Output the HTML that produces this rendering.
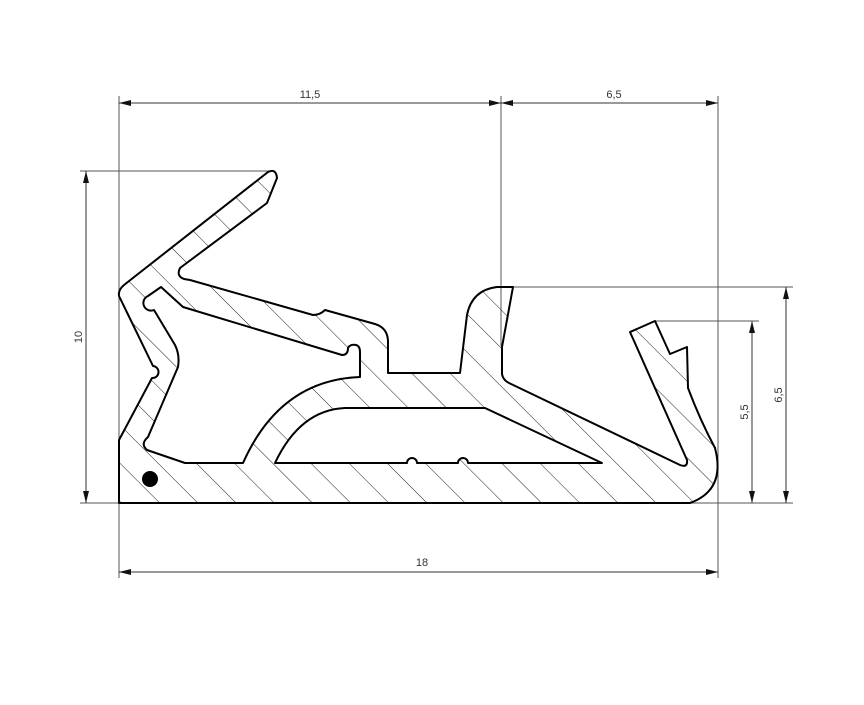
<!DOCTYPE html>
<html><head><meta charset="utf-8"><style>
html,body{margin:0;padding:0;background:#fff;}
svg{display:block;}
text{font-family:"Liberation Sans",sans-serif;font-size:11px;fill:#333;}
</style></head><body>
<svg width="864" height="705" viewBox="0 0 864 705" xmlns="http://www.w3.org/2000/svg">
<defs>
<pattern id="h" patternUnits="userSpaceOnUse" width="27" height="27" patternTransform="rotate(-45)">
<line x1="0" y1="0" x2="0" y2="27" stroke="#222" stroke-width="1"/>
</pattern>
<marker id="a" viewBox="0 0 12 6" refX="12" refY="3" markerWidth="12" markerHeight="6" orient="auto-start-reverse" markerUnits="userSpaceOnUse">
<path d="M0,0 L12,3 L0,6 Z" fill="#111"/>
</marker>
</defs>
<g stroke="#555" stroke-width="1" fill="none">
<line x1="119" y1="96" x2="119" y2="578"/>
<line x1="501" y1="96" x2="501" y2="346"/>
<line x1="718" y1="96" x2="718" y2="578"/>
<line x1="80" y1="171" x2="272" y2="171"/>
<line x1="80" y1="503" x2="793" y2="503"/>
<line x1="500" y1="287" x2="793" y2="287"/>
<line x1="655" y1="321" x2="759" y2="321"/>
</g>
<g stroke="#333" stroke-width="1" fill="none">
<line x1="119" y1="103" x2="501" y2="103" marker-start="url(#a)" marker-end="url(#a)"/>
<line x1="501" y1="103" x2="718" y2="103" marker-start="url(#a)" marker-end="url(#a)"/>
<line x1="86" y1="171" x2="86" y2="503" marker-start="url(#a)" marker-end="url(#a)"/>
<line x1="752" y1="321" x2="752" y2="503" marker-start="url(#a)" marker-end="url(#a)"/>
<line x1="786" y1="287" x2="786" y2="503" marker-start="url(#a)" marker-end="url(#a)"/>
<line x1="119" y1="572" x2="718" y2="572" marker-start="url(#a)" marker-end="url(#a)"/>
</g>
<text x="310" y="98" text-anchor="middle">11,5</text>
<text x="614" y="98" text-anchor="middle">6,5</text>
<text x="422" y="566" text-anchor="middle">18</text>
<text transform="translate(82,337) rotate(-90)" text-anchor="middle">10</text>
<text transform="translate(748,412) rotate(-90)" text-anchor="middle">5,5</text>
<text transform="translate(782,395) rotate(-90)" text-anchor="middle">6,5</text>
<path fill="url(#h)" fill-rule="evenodd" stroke="#000" stroke-width="2" stroke-linejoin="round" d="
M119,503 L119,440 L152,378 A5,5 0 0 0 153,366 L119,296 Q118,290 124,285 L268,172 Q276,168 277,178 L267,203 L180,268 Q176,276 184,279 L190,280 L313,315 Q320,315 325,310 L375,324 Q388,328 388,342 L388,373 L460,373 L467,315 Q472,290 497,287 L513,287 L502,347 L502,374 Q503,380 509,383 L680,465 Q688,468 687,460 L630,332 L655,321 L670,354 L687,347 L688,388 Q700,420 715,448 Q726,490 690,503 Z
M148,437 L178,367 Q180,355 175,345 L154,310 A5,5 0 0 1 148,296 L161,287 L183,307 L342,355 Q348,355 348,348 Q350,344 356,345 Q360,346 360,352 L360,377 Q280,380 243,463 L185,463 L147,450 Q140,444 148,437 Z
M275,463 Q300,410 345,408 L485,408 L602,463 L468,463 A5,5 0 0 0 458,463 L417,463 A5,5 0 0 0 407,463 Z"/>
<circle cx="150" cy="479" r="8" fill="#000"/>
</svg>
</body></html>
